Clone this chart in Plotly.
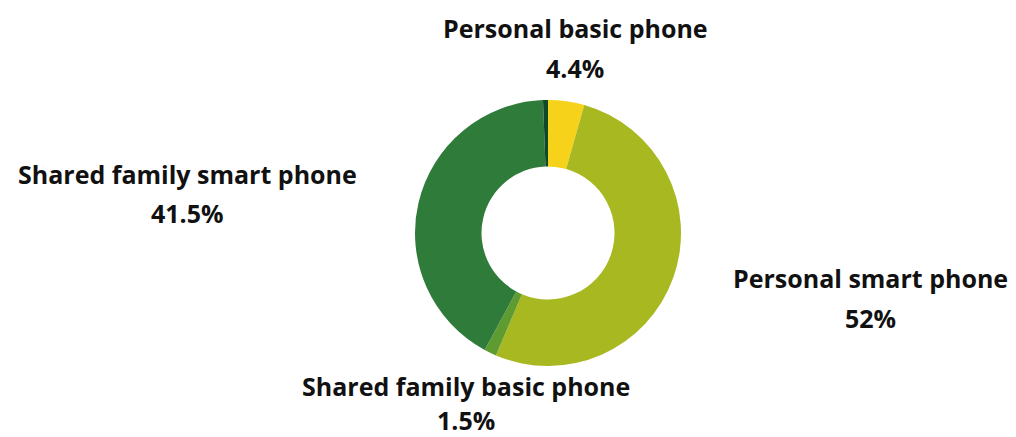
import plotly.graph_objects as go

labels = ["Personal basic phone", "Personal smart phone", "Shared family basic phone",
          "Shared family smart phone", "Other"]
values = [4.4, 52, 1.5, 41.5, 0.6]
value_text = ["4.4%", "52%", "1.5%", "41.5%", ""]
colors = ["#F6D21A", "#A8B820", "#5E9B31", "#2E7B3A", "#0D4A2A"]

W, H = 1016, 437
cx, cy, R = 548, 233, 133

fig = go.Figure(go.Pie(
    labels=labels, values=values, hole=0.5, sort=False, direction="clockwise",
    rotation=0, marker=dict(colors=colors, line=dict(width=0)),
    textinfo="none", hoverinfo="label+percent", showlegend=False,
    domain=dict(x=[(cx - R) / W, (cx + R) / W], y=[(H - cy - R) / H, (H - cy + R) / H]),
))

# label anchor positions (pixel centres): name line, value line
label_pos = {
    0: (575, 28, 68),
    1: (870, 278, 318),
    2: (466, 386, 420),
    3: (187, 174, 213),
}
font = dict(family="Open Sans", size=25, color="#111111")
for i, (x, y1, y2) in label_pos.items():
    fig.add_annotation(x=x / W, y=1 - y1 / H, xref="paper", yref="paper", text="<b>%s</b>" % labels[i],
                       showarrow=False, font=font, xanchor="center", yanchor="middle", borderpad=0)
    fig.add_annotation(x=x / W, y=1 - y2 / H, xref="paper", yref="paper", text="<b>%s</b>" % value_text[i],
                       showarrow=False, font=font, xanchor="center", yanchor="middle", borderpad=0)

fig.update_layout(width=W, height=H, margin=dict(l=0, r=0, t=0, b=0),
                  paper_bgcolor="white", plot_bgcolor="white")
fig.write_html("out.html", config={"displayModeBar": False},
               post_script="document.body.style.margin='0';document.body.style.overflow='hidden';")
